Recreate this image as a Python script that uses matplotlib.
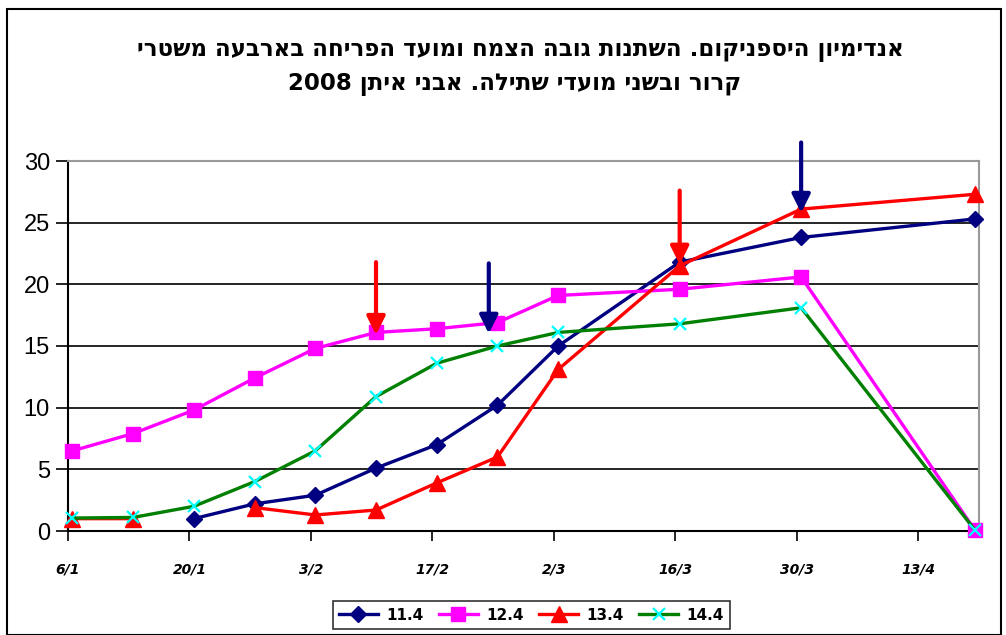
import re
import numpy as np
import pandas as pd
import matplotlib
matplotlib.use('Agg')
import matplotlib.pyplot as plt
from matplotlib.patches import Rectangle

# Sampling dates (2008) and plant height per cooling regime
dates = ['6/1', '13/1', '20/1', '27/1', '3/2', '10/2', '17/2', '24/2',
         '2/3', '16/3', '30/3', '19/4']
h_11_4 = [None, None, 1.0, 2.2, 2.9, 5.1, 7.0, 10.2, 15.0, 21.8, 23.8, 25.3]
h_12_4 = [6.5, 7.9, 9.8, 12.4, 14.8, 16.1, 16.4, 16.9, 19.1, 19.6, 20.6, 0.1]
h_13_4 = [1.0, 1.0, None, 1.9, 1.3, 1.7, 3.9, 6.0, 13.1, 21.5, 26.1, 27.3]
h_14_4 = [1.05, 1.1, 2.0, 4.0, 6.5, 10.9, 13.6, 15.0, 16.1, 16.8, 18.1, 0.1]
series_names = ['11.4', '12.4', '13.4', '14.4']

tick_dates = ['6/1', '20/1', '3/2', '17/2', '2/3', '16/3', '30/3', '13/4']

# flowering arrows: date, colour, top value, tip value
arrow_dates = ['10/2', '23/2', '16/3', '30/3']
arrow_colors = ['#FF0000', '#000080', '#FF0000', '#000080']
arrow_top = [21.8, 21.7, 27.6, 31.5]
arrow_tip = [15.9, 16.0, 21.6, 25.8]

title_lines = ['אנדימיון היספניקום. השתנות גובה הצמח ומועד הפריחה בארבעה משטרי',
               'קרור ובשני מועדי שתילה. אבני איתן 2008']


def day_of(d):
    t = pd.to_datetime(d + '/2008', format='%d/%m/%Y')
    return (t - pd.Timestamp('2008-01-06')).days


def rtl(s):
    # crude visual ordering for Hebrew: reverse, keep digit runs left-to-right
    r = s[::-1]
    return re.sub(r'\d+', lambda m: m.group(0)[::-1], r)


x = np.array([day_of(d) + 0.5 for d in dates])

fig = plt.figure(figsize=(10.06, 6.35), dpi=100)
ax = fig.add_axes([68 / 1006, 1 - 531 / 635, (979 - 68) / 1006, (531 - 161) / 635])

styles = [
    dict(color='#000080', marker='D', markersize=8, mfc='#000080', mec='#000080'),
    dict(color='#FF00FF', marker='s', markersize=10, mfc='#FF00FF', mec='#FF00FF'),
    dict(color='#FF0000', marker='^', markersize=11, mfc='#FF0000', mec='#FF0000'),
    dict(color='#008000', marker='x', markersize=9, mfc='#00FFFF', mec='#00FFFF', mew=1.6),
]
for vals, name, st in zip([h_11_4, h_12_4, h_13_4, h_14_4], series_names, styles):
    ys = np.array([np.nan if v is None else v for v in vals])
    ax.plot(x, ys, lw=2.4, label=name, zorder=3, clip_on=False, **st)

for d, c, top, tip in zip(arrow_dates, arrow_colors, arrow_top, arrow_tip):
    xd = day_of(d) + 0.5
    ax.annotate('', xy=(xd, tip), xytext=(xd, top),
                arrowprops=dict(arrowstyle='-|>,head_length=1.1,head_width=0.55',
                                color=c, lw=3, shrinkA=0, shrinkB=0),
                annotation_clip=False, zorder=4)

ax.set_xlim(0, 105)
ax.set_ylim(0, 30)
ax.set_yticks(range(0, 31, 5))
ax.set_yticklabels([str(v) for v in range(0, 31, 5)], family='Liberation Sans', fontsize=17)
ax.set_xticks([day_of(d) for d in tick_dates])
ax.set_xticklabels(tick_dates, fontsize=10, fontweight='bold', style='italic')
ax.tick_params(axis='y', length=9, width=1.2, pad=4)
ax.tick_params(axis='x', length=7, width=1.2, pad=16)
ax.yaxis.grid(True, color='black', lw=1.2)
ax.set_axisbelow(True)
for s in ['top', 'right']:
    ax.spines[s].set_color('#999999')
    ax.spines[s].set_linewidth(1.5)
for s in ['left', 'bottom']:
    ax.spines[s].set_color('black')
    ax.spines[s].set_linewidth(1.5)

fig.text(0.517, 1 - 50 / 635, rtl(title_lines[0]), ha='center', va='center',
         fontsize=16.5, fontweight='bold', family='DejaVu Sans')
fig.text(0.511, 1 - 85 / 635, rtl(title_lines[1]), ha='center', va='center',
         fontsize=16.5, fontweight='bold', family='DejaVu Sans')

leg = fig.legend(loc='center', bbox_to_anchor=(531 / 1006, 1 - 615 / 635), ncol=4,
                 fancybox=False, edgecolor='black', handlelength=2.6, handletextpad=0.5,
                 columnspacing=1.0, prop=dict(weight='bold', size=11), borderpad=0.4)
leg.get_frame().set_linewidth(1.2)

fig.patches.append(Rectangle((7 / 1006, 0), 994 / 1006, 1 - 9 / 635, transform=fig.transFigure,
                             fill=False, edgecolor='black', lw=1.5))

fig.savefig('out.png', dpi=100)
